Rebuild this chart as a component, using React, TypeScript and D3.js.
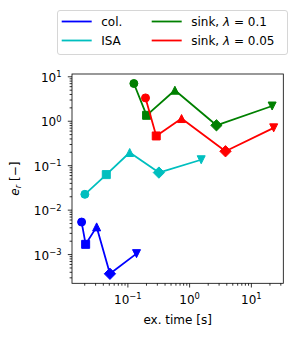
import React, { useEffect, useRef } from 'react';
import * as d3 from 'd3';

// execution time [s] and relative error per method, one point per marker
const markerKinds = ['circle', 'square', 'triangleUp', 'diamond', 'triangleDown'];

const colTime = [0.0178, 0.0207, 0.0312, 0.0512, 0.138];
const colErr = [0.0054, 0.0017, 0.0042, 0.00037, 0.00105];

const isaTime = [0.0201, 0.0447, 0.107, 0.318, 1.54];
const isaErr = [0.0227, 0.063, 0.198, 0.07, 0.136];

const sink01Time = [0.125, 0.201, 0.577, 2.72, 21.7];
const sink01Err = [7.06, 1.36, 4.99, 0.81, 2.2];

const sink005Time = [0.193, 0.288, 0.74, 3.81, 23];
const sink005Err = [3.35, 0.467, 1.15, 0.211, 0.71];

const seriesNames = ['col.', 'ISA', 'sink01', 'sink005'];
const seriesColors = ['#0000ff', '#00bfbf', '#008000', '#ff0000'];

const W = 299;
const H = 337;
const FONT = 'DejaVu Sans';

function markerPath(kind, s) {
  const h = s / 2;
  const p = d3.path();
  if (kind === 'circle') {
    p.moveTo(h, 0);
    p.arc(0, 0, h, 0, Math.PI * 2);
  } else if (kind === 'square') {
    p.rect(-h, -h, s, s);
  } else if (kind === 'triangleUp') {
    p.moveTo(0, -h); p.lineTo(-h, h); p.lineTo(h, h); p.closePath();
  } else if (kind === 'triangleDown') {
    p.moveTo(0, h); p.lineTo(-h, -h); p.lineTo(h, -h); p.closePath();
  } else {
    const d = h * Math.SQRT2;
    p.moveTo(0, -d); p.lineTo(d, 0); p.lineTo(0, d); p.lineTo(-d, 0); p.closePath();
  }
  return p.toString();
}

// matplotlib-like autoscale: 5% margin in log space
function logDomain(vals) {
  const [lo, hi] = d3.extent(vals.map(v => Math.log10(v)));
  const m = (hi - lo) * 0.05;
  return [Math.pow(10, lo - m), Math.pow(10, hi + m)];
}

export default function App() {
  const svgRef = useRef(null);

  useEffect(() => {
    const series = [
      { name: seriesNames[0], color: seriesColors[0], t: colTime, e: colErr },
      { name: seriesNames[1], color: seriesColors[1], t: isaTime, e: isaErr },
      { name: seriesNames[2], color: seriesColors[2], t: sink01Time, e: sink01Err },
      { name: seriesNames[3], color: seriesColors[3], t: sink005Time, e: sink005Err },
    ];

    const margin = { left: 72, top: 74, right: 283.3, bottom: 283.3 };

    const x = d3.scaleLog()
      .domain(logDomain(series.flatMap(s => s.t)))
      .range([margin.left, margin.right]);
    const y = d3.scaleLog()
      .domain(logDomain(series.flatMap(s => s.e)))
      .range([margin.bottom, margin.top]);

    const svg = d3.select(svgRef.current);
    svg.selectAll('*').remove();

    const clipId = 'plotclip';
    svg.append('clipPath').attr('id', clipId)
      .append('rect')
      .attr('x', margin.left).attr('y', margin.top)
      .attr('width', margin.right - margin.left)
      .attr('height', margin.bottom - margin.top);

    // ticks
    const logTicks = (scale) => {
      const [a, b] = scale.domain();
      const major = [];
      const minor = [];
      for (let k = Math.floor(Math.log10(a)); k <= Math.ceil(Math.log10(b)); k++) {
        for (let j = 1; j < 10; j++) {
          const v = j * Math.pow(10, k);
          if (v < a || v > b) continue;
          (j === 1 ? major : minor).push({ v, k });
        }
      }
      return { major, minor };
    };

    const xt = logTicks(x);
    const yt = logTicks(y);
    const axes = svg.append('g').attr('stroke', '#000').attr('stroke-width', 0.8);

    xt.minor.forEach(d => axes.append('line')
      .attr('x1', x(d.v)).attr('x2', x(d.v))
      .attr('y1', margin.bottom).attr('y2', margin.bottom + 2.4));
    xt.major.forEach(d => axes.append('line')
      .attr('x1', x(d.v)).attr('x2', x(d.v))
      .attr('y1', margin.bottom).attr('y2', margin.bottom + 4.2));
    yt.minor.forEach(d => axes.append('line')
      .attr('y1', y(d.v)).attr('y2', y(d.v))
      .attr('x1', margin.left).attr('x2', margin.left - 2.4));
    yt.major.forEach(d => axes.append('line')
      .attr('y1', y(d.v)).attr('y2', y(d.v))
      .attr('x1', margin.left).attr('x2', margin.left - 4.2));

    const expLabel = (g, k) => {
      g.append('tspan').text('10');
      g.append('tspan')
        .attr('font-size', 8.4)
        .attr('dy', -4.6)
        .text(k < 0 ? `\u2212${-k}` : `${k}`);
    };

    xt.major.forEach(d => {
      const t = svg.append('text')
        .attr('x', x(d.v)).attr('y', 303.5)
        .attr('text-anchor', 'middle')
        .attr('font-family', FONT).attr('font-size', 12);
      expLabel(t, d.k);
    });
    yt.major.forEach(d => {
      const t = svg.append('text')
        .attr('x', 61.5).attr('y', y(d.v) + 5.2)
        .attr('text-anchor', 'end')
        .attr('font-family', FONT).attr('font-size', 12);
      expLabel(t, d.k);
    });

    // series
    const plot = svg.append('g').attr('clip-path', `url(#${clipId})`);
    const line = d3.line().x(d => x(d[0])).y(d => y(d[1]));
    series.forEach(s => {
      const pts = s.t.map((t, i) => [t, s.e[i]]);
      plot.append('path')
        .attr('d', line(pts))
        .attr('fill', 'none')
        .attr('stroke', s.color)
        .attr('stroke-width', 1.8)
        .attr('stroke-linejoin', 'round');
      pts.forEach((p, i) => {
        plot.append('path')
          .attr('d', markerPath(markerKinds[i], 8))
          .attr('transform', `translate(${x(p[0])},${y(p[1])})`)
          .attr('fill', s.color)
          .attr('stroke', s.color)
          .attr('stroke-width', 1);
      });
    });

    // frame
    svg.append('rect')
      .attr('x', margin.left).attr('y', margin.top)
      .attr('width', margin.right - margin.left)
      .attr('height', margin.bottom - margin.top)
      .attr('fill', 'none').attr('stroke', '#000').attr('stroke-width', 0.8);

    // axis labels
    svg.append('text')
      .attr('x', (margin.left + margin.right) / 2).attr('y', 324)
      .attr('text-anchor', 'middle')
      .attr('font-family', FONT).attr('font-size', 12)
      .text('ex. time [s]');

    const yl = svg.append('text')
      .attr('transform', `translate(18.5,${(margin.top + margin.bottom) / 2}) rotate(-90)`)
      .attr('text-anchor', 'middle')
      .attr('font-family', FONT).attr('font-size', 12);
    yl.append('tspan').attr('font-style', 'italic').text('e');
    yl.append('tspan').attr('font-style', 'italic').attr('font-size', 8.4).attr('dy', 2.2).text('r');
    yl.append('tspan').attr('dy', -2.2).text(' [\u2212]');

    // legend
    const lg = svg.append('g');
    lg.append('rect')
      .attr('x', 57.5).attr('y', 10.5).attr('width', 230).attr('height', 44)
      .attr('rx', 2.5)
      .attr('fill', '#fff').attr('fill-opacity', 0.8)
      .attr('stroke', '#cccccc').attr('stroke-width', 0.8);

    const entries = [
      { s: series[0], col: 0, row: 0 },
      { s: series[1], col: 0, row: 1 },
      { s: series[2], col: 1, row: 0, lam: '0.1' },
      { s: series[3], col: 1, row: 1, lam: '0.05' },
    ];
    entries.forEach(en => {
      const lx = en.col === 0 ? 61.7 : 151.7;
      const ly = en.row === 0 ? 21.5 : 40.5;
      lg.append('line')
        .attr('x1', lx).attr('x2', lx + 30)
        .attr('y1', ly).attr('y2', ly)
        .attr('stroke', en.s.color).attr('stroke-width', 1.8);
      const t = lg.append('text')
        .attr('x', lx + 39.5).attr('y', ly + 4.5)
        .attr('font-family', FONT).attr('font-size', 12);
      if (en.lam) {
        t.append('tspan').text('sink, ');
        t.append('tspan').attr('font-style', 'italic').text('\u03bb');
        t.append('tspan').text(` = ${en.lam}`);
      } else {
        t.text(en.s.name);
      }
    });
  }, []);

  return (
    <svg
      ref={svgRef}
      width={W}
      height={H}
      style={{ position: 'absolute', left: 0, top: 0, background: '#fff' }}
    />
  );
}
